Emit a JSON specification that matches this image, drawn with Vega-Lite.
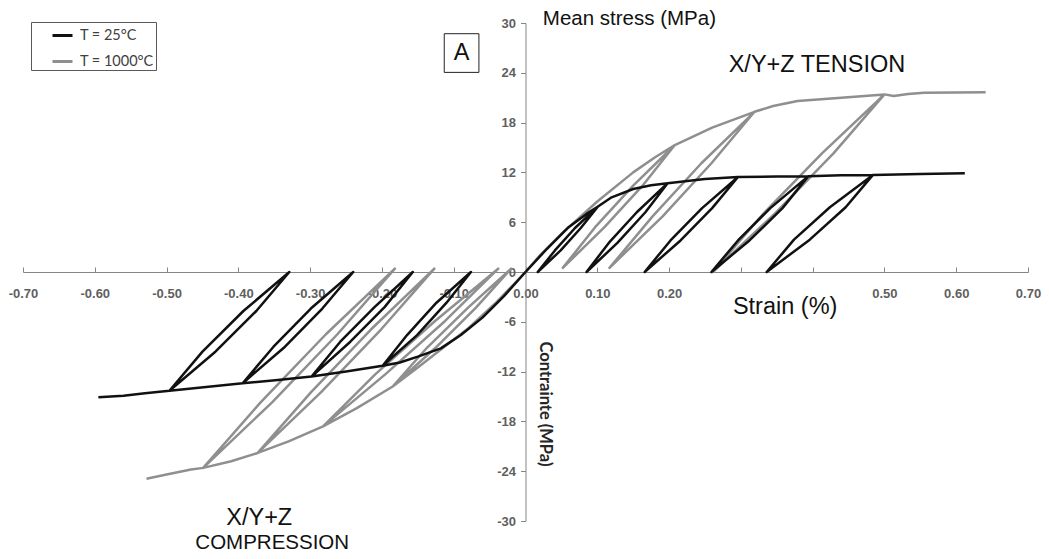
{
  "$schema": "https://vega.github.io/schema/vega-lite/v6.json",
  "width": 1005,
  "height": 498,
  "autosize": {"type": "none"},
  "padding": {"left": 23, "top": 23, "right": 21, "bottom": 38},
  "background": "white",
  "config": {"view": {"stroke": null}, "font": "Liberation Sans"},
  "datasets": {
    "curves": [
      {"temp": "T = 1000°C", "seg": "gT", "x": 0, "y": 0},
      {"temp": "T = 1000°C", "seg": "gT", "x": 0.02, "y": 2.0},
      {"temp": "T = 1000°C", "seg": "gT", "x": 0.05, "y": 4.6},
      {"temp": "T = 1000°C", "seg": "gT", "x": 0.10, "y": 8.5},
      {"temp": "T = 1000°C", "seg": "gT", "x": 0.15, "y": 12.0},
      {"temp": "T = 1000°C", "seg": "gT", "x": 0.18, "y": 13.8},
      {"temp": "T = 1000°C", "seg": "gT", "x": 0.208, "y": 15.3},
      {"temp": "T = 1000°C", "seg": "gT", "x": 0.150, "y": 10.4},
      {"temp": "T = 1000°C", "seg": "gT", "x": 0.097, "y": 5.4},
      {"temp": "T = 1000°C", "seg": "gT", "x": 0.052, "y": 0.5},
      {"temp": "T = 1000°C", "seg": "gT", "x": 0.110, "y": 5.4},
      {"temp": "T = 1000°C", "seg": "gT", "x": 0.163, "y": 10.4},
      {"temp": "T = 1000°C", "seg": "gT", "x": 0.208, "y": 15.3},
      {"temp": "T = 1000°C", "seg": "gT", "x": 0.26, "y": 17.4},
      {"temp": "T = 1000°C", "seg": "gT", "x": 0.319, "y": 19.3},
      {"temp": "T = 1000°C", "seg": "gT", "x": 0.245, "y": 13.1},
      {"temp": "T = 1000°C", "seg": "gT", "x": 0.177, "y": 6.7},
      {"temp": "T = 1000°C", "seg": "gT", "x": 0.117, "y": 0.5},
      {"temp": "T = 1000°C", "seg": "gT", "x": 0.191, "y": 6.7},
      {"temp": "T = 1000°C", "seg": "gT", "x": 0.259, "y": 13.1},
      {"temp": "T = 1000°C", "seg": "gT", "x": 0.319, "y": 19.3},
      {"temp": "T = 1000°C", "seg": "gT", "x": 0.345, "y": 20.0},
      {"temp": "T = 1000°C", "seg": "gT", "x": 0.379, "y": 20.6},
      {"temp": "T = 1000°C", "seg": "gT", "x": 0.44, "y": 21.0},
      {"temp": "T = 1000°C", "seg": "gT", "x": 0.50, "y": 21.4},
      {"temp": "T = 1000°C", "seg": "gT", "x": 0.413, "y": 14.3},
      {"temp": "T = 1000°C", "seg": "gT", "x": 0.332, "y": 7.1},
      {"temp": "T = 1000°C", "seg": "gT", "x": 0.261, "y": 0},
      {"temp": "T = 1000°C", "seg": "gT", "x": 0.348, "y": 7.1},
      {"temp": "T = 1000°C", "seg": "gT", "x": 0.429, "y": 14.3},
      {"temp": "T = 1000°C", "seg": "gT", "x": 0.50, "y": 21.4},
      {"temp": "T = 1000°C", "seg": "gT", "x": 0.513, "y": 21.2},
      {"temp": "T = 1000°C", "seg": "gT", "x": 0.533, "y": 21.45},
      {"temp": "T = 1000°C", "seg": "gT", "x": 0.555, "y": 21.6},
      {"temp": "T = 1000°C", "seg": "gT", "x": 0.641, "y": 21.65},

      {"temp": "T = 1000°C", "seg": "gC", "x": 0, "y": 0},
      {"temp": "T = 1000°C", "seg": "gC", "x": -0.04, "y": -3.6},
      {"temp": "T = 1000°C", "seg": "gC", "x": -0.08, "y": -6.8},
      {"temp": "T = 1000°C", "seg": "gC", "x": -0.113, "y": -9.0},
      {"temp": "T = 1000°C", "seg": "gC", "x": -0.15, "y": -11.5},
      {"temp": "T = 1000°C", "seg": "gC", "x": -0.185, "y": -13.8},
      {"temp": "T = 1000°C", "seg": "gC", "x": -0.125, "y": -9.1},
      {"temp": "T = 1000°C", "seg": "gC", "x": -0.069, "y": -4.3},
      {"temp": "T = 1000°C", "seg": "gC", "x": -0.02, "y": 0.4},
      {"temp": "T = 1000°C", "seg": "gC", "x": -0.080, "y": -4.3},
      {"temp": "T = 1000°C", "seg": "gC", "x": -0.137, "y": -9.1},
      {"temp": "T = 1000°C", "seg": "gC", "x": -0.185, "y": -13.8},
      {"temp": "T = 1000°C", "seg": "gC", "x": -0.235, "y": -16.4},
      {"temp": "T = 1000°C", "seg": "gC", "x": -0.282, "y": -18.6},
      {"temp": "T = 1000°C", "seg": "gC", "x": -0.195, "y": -12.3},
      {"temp": "T = 1000°C", "seg": "gC", "x": -0.112, "y": -5.9},
      {"temp": "T = 1000°C", "seg": "gC", "x": -0.038, "y": 0.4},
      {"temp": "T = 1000°C", "seg": "gC", "x": -0.126, "y": -5.9},
      {"temp": "T = 1000°C", "seg": "gC", "x": -0.209, "y": -12.3},
      {"temp": "T = 1000°C", "seg": "gC", "x": -0.282, "y": -18.6},
      {"temp": "T = 1000°C", "seg": "gC", "x": -0.33, "y": -20.4},
      {"temp": "T = 1000°C", "seg": "gC", "x": -0.373, "y": -21.8},
      {"temp": "T = 1000°C", "seg": "gC", "x": -0.285, "y": -14.5},
      {"temp": "T = 1000°C", "seg": "gC", "x": -0.201, "y": -6.9},
      {"temp": "T = 1000°C", "seg": "gC", "x": -0.127, "y": 0.4},
      {"temp": "T = 1000°C", "seg": "gC", "x": -0.215, "y": -6.9},
      {"temp": "T = 1000°C", "seg": "gC", "x": -0.299, "y": -14.5},
      {"temp": "T = 1000°C", "seg": "gC", "x": -0.373, "y": -21.8},
      {"temp": "T = 1000°C", "seg": "gC", "x": -0.41, "y": -22.8},
      {"temp": "T = 1000°C", "seg": "gC", "x": -0.449, "y": -23.6},
      {"temp": "T = 1000°C", "seg": "gC", "x": -0.353, "y": -15.7},
      {"temp": "T = 1000°C", "seg": "gC", "x": -0.262, "y": -7.5},
      {"temp": "T = 1000°C", "seg": "gC", "x": -0.182, "y": 0.4},
      {"temp": "T = 1000°C", "seg": "gC", "x": -0.278, "y": -7.5},
      {"temp": "T = 1000°C", "seg": "gC", "x": -0.369, "y": -15.7},
      {"temp": "T = 1000°C", "seg": "gC", "x": -0.449, "y": -23.6},
      {"temp": "T = 1000°C", "seg": "gC", "x": -0.466, "y": -23.8},
      {"temp": "T = 1000°C", "seg": "gC", "x": -0.50, "y": -24.4},
      {"temp": "T = 1000°C", "seg": "gC", "x": -0.528, "y": -24.9},

      {"temp": "T = 25°C", "seg": "bT", "x": 0, "y": 0},
      {"temp": "T = 25°C", "seg": "bT", "x": 0.03, "y": 2.8},
      {"temp": "T = 25°C", "seg": "bT", "x": 0.06, "y": 5.4},
      {"temp": "T = 25°C", "seg": "bT", "x": 0.085, "y": 7.0},
      {"temp": "T = 25°C", "seg": "bT", "x": 0.101, "y": 7.9},
      {"temp": "T = 25°C", "seg": "bT", "x": 0.069, "y": 5.3},
      {"temp": "T = 25°C", "seg": "bT", "x": 0.041, "y": 2.6},
      {"temp": "T = 25°C", "seg": "bT", "x": 0.017, "y": 0},
      {"temp": "T = 25°C", "seg": "bT", "x": 0.049, "y": 2.6},
      {"temp": "T = 25°C", "seg": "bT", "x": 0.077, "y": 5.3},
      {"temp": "T = 25°C", "seg": "bT", "x": 0.101, "y": 7.9},
      {"temp": "T = 25°C", "seg": "bT", "x": 0.12, "y": 9.0},
      {"temp": "T = 25°C", "seg": "bT", "x": 0.15, "y": 10.0},
      {"temp": "T = 25°C", "seg": "bT", "x": 0.175, "y": 10.45},
      {"temp": "T = 25°C", "seg": "bT", "x": 0.198, "y": 10.7},
      {"temp": "T = 25°C", "seg": "bT", "x": 0.155, "y": 7.2},
      {"temp": "T = 25°C", "seg": "bT", "x": 0.116, "y": 3.5},
      {"temp": "T = 25°C", "seg": "bT", "x": 0.085, "y": 0},
      {"temp": "T = 25°C", "seg": "bT", "x": 0.128, "y": 3.5},
      {"temp": "T = 25°C", "seg": "bT", "x": 0.167, "y": 7.2},
      {"temp": "T = 25°C", "seg": "bT", "x": 0.198, "y": 10.7},
      {"temp": "T = 25°C", "seg": "bT", "x": 0.25, "y": 11.2},
      {"temp": "T = 25°C", "seg": "bT", "x": 0.296, "y": 11.45},
      {"temp": "T = 25°C", "seg": "bT", "x": 0.246, "y": 7.7},
      {"temp": "T = 25°C", "seg": "bT", "x": 0.202, "y": 3.8},
      {"temp": "T = 25°C", "seg": "bT", "x": 0.166, "y": 0},
      {"temp": "T = 25°C", "seg": "bT", "x": 0.216, "y": 3.8},
      {"temp": "T = 25°C", "seg": "bT", "x": 0.260, "y": 7.7},
      {"temp": "T = 25°C", "seg": "bT", "x": 0.296, "y": 11.45},
      {"temp": "T = 25°C", "seg": "bT", "x": 0.35, "y": 11.5},
      {"temp": "T = 25°C", "seg": "bT", "x": 0.394, "y": 11.55},
      {"temp": "T = 25°C", "seg": "bT", "x": 0.341, "y": 7.7},
      {"temp": "T = 25°C", "seg": "bT", "x": 0.296, "y": 3.8},
      {"temp": "T = 25°C", "seg": "bT", "x": 0.259, "y": 0},
      {"temp": "T = 25°C", "seg": "bT", "x": 0.312, "y": 3.8},
      {"temp": "T = 25°C", "seg": "bT", "x": 0.358, "y": 7.7},
      {"temp": "T = 25°C", "seg": "bT", "x": 0.394, "y": 11.55},
      {"temp": "T = 25°C", "seg": "bT", "x": 0.44, "y": 11.65},
      {"temp": "T = 25°C", "seg": "bT", "x": 0.484, "y": 11.7},
      {"temp": "T = 25°C", "seg": "bT", "x": 0.424, "y": 7.8},
      {"temp": "T = 25°C", "seg": "bT", "x": 0.374, "y": 3.9},
      {"temp": "T = 25°C", "seg": "bT", "x": 0.336, "y": 0},
      {"temp": "T = 25°C", "seg": "bT", "x": 0.396, "y": 3.9},
      {"temp": "T = 25°C", "seg": "bT", "x": 0.446, "y": 7.8},
      {"temp": "T = 25°C", "seg": "bT", "x": 0.484, "y": 11.7},
      {"temp": "T = 25°C", "seg": "bT", "x": 0.55, "y": 11.8},
      {"temp": "T = 25°C", "seg": "bT", "x": 0.612, "y": 11.9},

      {"temp": "T = 25°C", "seg": "bC", "x": 0, "y": 0},
      {"temp": "T = 25°C", "seg": "bC", "x": -0.03, "y": -2.9},
      {"temp": "T = 25°C", "seg": "bC", "x": -0.06, "y": -5.5},
      {"temp": "T = 25°C", "seg": "bC", "x": -0.09, "y": -7.6},
      {"temp": "T = 25°C", "seg": "bC", "x": -0.118, "y": -9.2},
      {"temp": "T = 25°C", "seg": "bC", "x": -0.15, "y": -10.2},
      {"temp": "T = 25°C", "seg": "bC", "x": -0.175, "y": -10.9},
      {"temp": "T = 25°C", "seg": "bC", "x": -0.199, "y": -11.3},
      {"temp": "T = 25°C", "seg": "bC", "x": -0.151, "y": -7.6},
      {"temp": "T = 25°C", "seg": "bC", "x": -0.110, "y": -3.7},
      {"temp": "T = 25°C", "seg": "bC", "x": -0.076, "y": 0},
      {"temp": "T = 25°C", "seg": "bC", "x": -0.124, "y": -3.7},
      {"temp": "T = 25°C", "seg": "bC", "x": -0.165, "y": -7.6},
      {"temp": "T = 25°C", "seg": "bC", "x": -0.199, "y": -11.3},
      {"temp": "T = 25°C", "seg": "bC", "x": -0.25, "y": -12.0},
      {"temp": "T = 25°C", "seg": "bC", "x": -0.298, "y": -12.6},
      {"temp": "T = 25°C", "seg": "bC", "x": -0.244, "y": -8.4},
      {"temp": "T = 25°C", "seg": "bC", "x": -0.196, "y": -4.2},
      {"temp": "T = 25°C", "seg": "bC", "x": -0.157, "y": 0},
      {"temp": "T = 25°C", "seg": "bC", "x": -0.210, "y": -4.2},
      {"temp": "T = 25°C", "seg": "bC", "x": -0.258, "y": -8.4},
      {"temp": "T = 25°C", "seg": "bC", "x": -0.298, "y": -12.6},
      {"temp": "T = 25°C", "seg": "bC", "x": -0.345, "y": -13.0},
      {"temp": "T = 25°C", "seg": "bC", "x": -0.394, "y": -13.4},
      {"temp": "T = 25°C", "seg": "bC", "x": -0.335, "y": -9.0},
      {"temp": "T = 25°C", "seg": "bC", "x": -0.283, "y": -4.4},
      {"temp": "T = 25°C", "seg": "bC", "x": -0.240, "y": 0},
      {"temp": "T = 25°C", "seg": "bC", "x": -0.299, "y": -4.4},
      {"temp": "T = 25°C", "seg": "bC", "x": -0.351, "y": -9.0},
      {"temp": "T = 25°C", "seg": "bC", "x": -0.394, "y": -13.4},
      {"temp": "T = 25°C", "seg": "bC", "x": -0.445, "y": -13.85},
      {"temp": "T = 25°C", "seg": "bC", "x": -0.496, "y": -14.3},
      {"temp": "T = 25°C", "seg": "bC", "x": -0.432, "y": -9.6},
      {"temp": "T = 25°C", "seg": "bC", "x": -0.375, "y": -4.7},
      {"temp": "T = 25°C", "seg": "bC", "x": -0.329, "y": 0},
      {"temp": "T = 25°C", "seg": "bC", "x": -0.393, "y": -4.7},
      {"temp": "T = 25°C", "seg": "bC", "x": -0.450, "y": -9.6},
      {"temp": "T = 25°C", "seg": "bC", "x": -0.496, "y": -14.3},
      {"temp": "T = 25°C", "seg": "bC", "x": -0.53, "y": -14.6},
      {"temp": "T = 25°C", "seg": "bC", "x": -0.56, "y": -14.9},
      {"temp": "T = 25°C", "seg": "bC", "x": -0.595, "y": -15.1}
    ]
  },
  "layer": [
    {
      "data": {"name": "curves"},
      "transform": [{"filter": "datum.temp == 'T = 1000°C'"}],
      "mark": {"type": "line", "strokeWidth": 2.5, "strokeJoin": "round"},
      "encoding": {
        "x": {
          "field": "x", "type": "quantitative",
          "scale": {"domain": [-0.7, 0.7], "nice": false, "zero": false},
          "axis": {
            "orient": "bottom", "offset": -249, "title": null, "grid": false,
            "values": [-0.7, -0.6, -0.5, -0.4, -0.3, -0.2, -0.1, 0, 0.1, 0.2, 0.3, 0.4, 0.5, 0.6, 0.7],
            "labelExpr": "abs(datum.value-0.3)<0.001 || abs(datum.value-0.4)<0.001 ? '' : (datum.value < -0.0001 ? '-' : '') + format(abs(datum.value), '.2f')",
            "domainColor": "#868686", "tickColor": "#868686", "tickSize": -5,
            "labelPadding": 20, "labelFont": "Liberation Sans", "labelFontWeight": 700,
            "labelFontSize": 13, "labelColor": "#5f5f5f",
            "labelFlush": false, "labelOverlap": false, "zindex": 0
          }
        },
        "y": {
          "field": "y", "type": "quantitative",
          "scale": {"domain": [-30, 30], "nice": false, "zero": false},
          "axis": {
            "orient": "left", "offset": -502.5, "title": null, "grid": false,
            "values": [-30, -24, -18, -12, -6, 0, 6, 12, 18, 24, 30],
            "labelExpr": "(datum.value < 0 ? '-' : '') + format(abs(datum.value), 'd')",
            "domainColor": "#868686", "tickColor": "#868686", "tickSize": 5,
            "labelPadding": 5, "labelFont": "Liberation Sans", "labelFontWeight": 700,
            "labelFontSize": 13, "labelColor": "#5f5f5f",
            "labelFlush": false, "labelOverlap": false, "zindex": 0
          }
        },
        "color": {
          "field": "temp", "type": "nominal",
          "scale": {"domain": ["T = 25°C", "T = 1000°C"], "range": ["#111111", "#8f8f8f"]},
          "legend": {
            "title": null, "orient": "none", "legendX": 8, "legendY": -1,
            "symbolType": "stroke", "symbolStrokeWidth": 3, "symbolSize": 400,
            "labelFont": "Lato", "labelFontSize": 14.5, "labelColor": "#404040",
            "labelExpr": "datum.label + '\u00a0\u00a0\u00a0\u00a0\u00a0\u00a0'",
            "strokeColor": "#595959", "fillColor": "white", "padding": 2,
            "rowPadding": 8, "symbolOffset": 18, "labelOffset": 6
          }
        },
        "detail": {"field": "seg"},
        "order": {"value": null}
      }
    },
    {
      "data": {"name": "curves"},
      "transform": [{"filter": "datum.temp == 'T = 25°C'"}],
      "mark": {"type": "line", "strokeWidth": 2.5, "strokeJoin": "round"},
      "encoding": {
        "x": {"field": "x", "type": "quantitative"},
        "y": {"field": "y", "type": "quantitative"},
        "color": {"field": "temp", "type": "nominal"},
        "detail": {"field": "seg"},
        "order": {"value": null}
      }
    },
    {
      "data": {"values": [{"x": -0.1132, "x2": -0.0649, "y": 28.71, "y2": 24.05}]},
      "mark": {"type": "rect", "fill": "white", "stroke": "#222222", "strokeWidth": 1},
      "encoding": {
        "x": {"field": "x", "type": "quantitative"},
        "x2": {"field": "x2"},
        "y": {"field": "y", "type": "quantitative"},
        "y2": {"field": "y2"}
      }
    },
    {
      "data": {"values": [
        {"label": "X/Y+Z TENSION", "x": 0.406, "y": 24.98},
        {"label": "Strain (%)", "x": 0.3617, "y": -4.2},
        {"label": "X/Y+Z", "x": -0.3709, "y": -29.58},
        {"label": "A", "x": -0.0891, "y": 26.38}
      ]},
      "mark": {"type": "text", "font": "Liberation Sans", "fontSize": 23.5, "align": "center", "baseline": "middle", "color": "#111111"},
      "encoding": {
        "x": {"field": "x", "type": "quantitative"},
        "y": {"field": "y", "type": "quantitative"},
        "text": {"field": "label"}
      }
    },
    {
      "data": {"values": [{"label": "COMPRESSION", "x": -0.3528, "y": -32.6}]},
      "mark": {"type": "text", "font": "Liberation Sans", "fontSize": 20.5, "align": "center", "baseline": "middle", "color": "#111111"},
      "encoding": {
        "x": {"field": "x", "type": "quantitative"},
        "y": {"field": "y", "type": "quantitative"},
        "text": {"field": "label"}
      }
    },
    {
      "data": {"values": [{"label": "Mean stress (MPa)", "x": 0.0242, "y": 30.48}]},
      "mark": {"type": "text", "font": "Liberation Sans", "fontSize": 20.5, "align": "left", "baseline": "middle", "color": "#111111"},
      "encoding": {
        "x": {"field": "x", "type": "quantitative"},
        "y": {"field": "y", "type": "quantitative"},
        "text": {"field": "label"}
      }
    },
    {
      "data": {"values": [{"label": "Contrainte (MPa)", "x": 0.0274, "y": -15.9}]},
      "mark": {"type": "text", "font": "Lato", "fontWeight": "bold", "fontSize": 16.5, "angle": 90, "align": "center", "baseline": "middle", "color": "#262626"},
      "encoding": {
        "x": {"field": "x", "type": "quantitative"},
        "y": {"field": "y", "type": "quantitative"},
        "text": {"field": "label"}
      }
    }
  ]
}
